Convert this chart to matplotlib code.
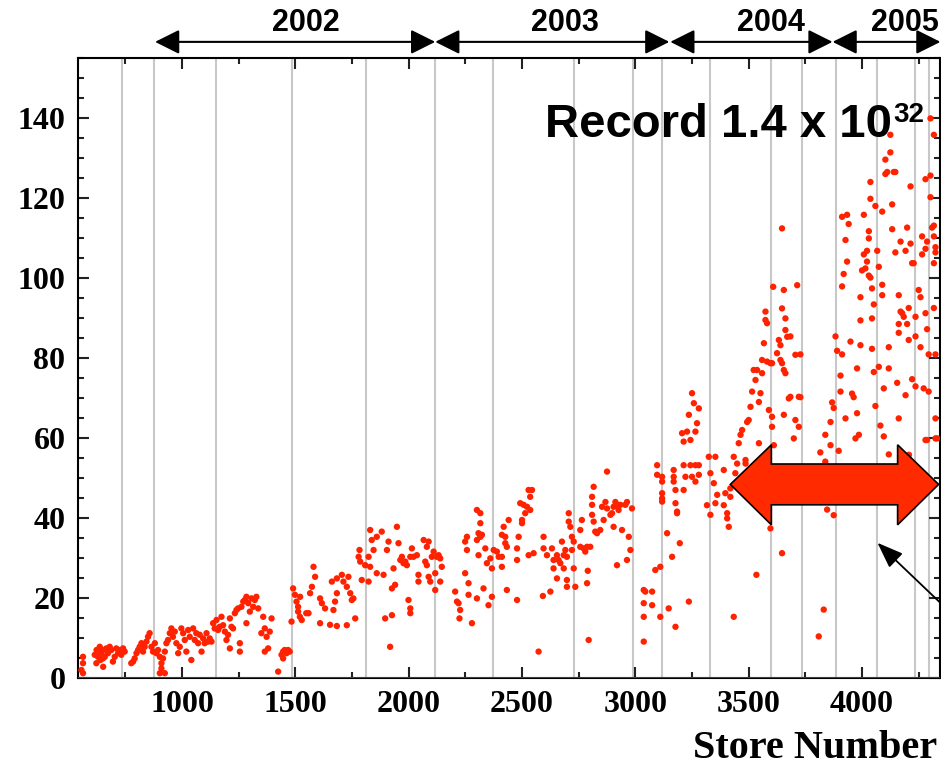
import numpy as np
import matplotlib.pyplot as plt
from matplotlib.patches import Polygon

# Peak luminosity per store (units of 1e30 cm^-2 s^-1)
run_early = [
    (563, 5.3), (563, 3.7), (556, 2.0), (563, 1.2),
    (615, 5.8), (622, 3.7), (623, 7.0), (629, 5.3), (629, 6.6), (637, 7.8), (640, 4.5), (644, 6.2),
    (651, 7.0), (651, 4.9), (652, 2.8), (659, 5.3), (666, 7.4), (673, 6.2), (681, 7.8), (688, 7.0),
    (695, 4.1), (703, 5.3), (710, 7.4), (718, 6.2), (725, 7.0), (732, 5.8), (740, 7.4), (747, 6.6),
    (776, 3.7), (784, 4.1), (791, 4.9), (799, 6.2), (806, 7.0), (813, 7.8), (821, 8.7), (828, 6.6),
    (835, 7.8), (843, 9.1), (850, 10.3), (857, 11.2), (865, 7.8), (872, 6.6), (880, 8.7), (887, 6.2),
    (894, 7.0), (902, 5.3), (909, 3.7), (916, 4.9), (924, 6.6), (902, 1.2), (924, 1.2), (909, 2.4),
    (931, 8.7), (938, 9.5), (946, 11.2), (953, 12.4), (960, 10.3), (968, 11.6), (975, 8.7),
    (983, 6.2), (990, 7.8), (997, 12.4),
]

run_1000 = [
    (1005, 11.2), (1012, 9.5), (1019, 6.6), (1027, 12.0), (1034, 10.3), (1041, 4.5), (1049, 12.4),
    (1056, 9.5), (1063, 11.2), (1071, 8.7), (1078, 10.8), (1086, 6.6), (1093, 9.9), (1100, 8.7),
    (1108, 11.2), (1115, 9.1), (1122, 9.9), (1130, 9.1), (1137, 13.7), (1144, 12.4), (1152, 14.5),
    (1159, 12.0), (1166, 12.8), (1174, 15.3), (1181, 13.2), (1189, 11.6), (1196, 9.5), (1203, 10.8),
    (1211, 14.9), (1218, 12.8), (1225, 12.4), (1211, 7.4), (1255, 8.7), (1255, 6.6), (1233, 16.2),
    (1240, 17.0), (1247, 17.4), (1262, 17.8), (1270, 19.1), (1277, 19.5), (1284, 20.3), (1292, 18.7),
    (1299, 16.6), (1284, 13.7), (1306, 19.9), (1314, 17.8), (1321, 19.5), (1328, 20.3), (1336, 17.4),
    (1350, 11.2), (1358, 15.3), (1365, 12.4), (1373, 10.3), (1365, 6.6), (1387, 11.6), (1395, 14.9),
    (1380, 7.4), (1424, 1.6), (1439, 5.8), (1446, 6.6), (1453, 7.0), (1461, 6.2), (1468, 7.0),
    (1475, 6.6), (1446, 4.9), (1483, 14.1), (1490, 22.4), (1498, 20.8), (1505, 19.1), (1512, 16.6),
    (1520, 15.3), (1512, 17.8),
]

run_1500 = [
    (1521, 20.3), (1528, 14.5), (1548, 16.2), (1558, 16.2), (1565, 21.2), (1573, 22.8), (1580, 27.8),
    (1587, 25.3), (1609, 19.9), (1617, 18.7), (1631, 17.4), (1609, 13.7), (1653, 13.3), (1683, 13.0),
    (1727, 13.2), (1668, 17.0), (1675, 19.1), (1683, 21.2), (1661, 24.1), (1683, 24.9), (1705, 25.8),
    (1712, 24.1), (1727, 22.8), (1742, 21.2), (1749, 19.5), (1734, 25.3), (1764, 14.9), (1756, 19.9),
    (1779, 30.3), (1786, 29.1), (1783, 32.0), (1793, 24.5), (1808, 28.2), (1823, 24.1), (1830, 37.0),
    (1837, 34.5), (1823, 30.3), (1830, 27.8), (1845, 32.0), (1859, 35.3), (1881, 36.6), (1859, 26.2),
    (1889, 25.8), (1896, 14.9), (1904, 32.0), (1911, 34.1), (1918, 7.8), (1926, 15.7), (1933, 27.4),
    (1926, 22.4), (1940, 23.3), (1948, 37.8), (1955, 33.7), (1963, 29.5), (1970, 30.3), (1977, 28.7),
    (1985, 29.1), (1992, 28.2), (1999, 19.5), (2007, 17.4), (2007, 16.2), (2007, 30.3), (2014, 32.4),
    (2021, 30.3), (2036, 30.7), (2043, 25.8), (2043, 24.1), (2066, 34.5), (2073, 29.1), (2080, 32.8),
    (2088, 34.1), (2080, 28.2), (2088, 25.3), (2095, 24.1), (2102, 30.3), (2110, 31.6), (2117, 26.2),
    (2117, 22.0), (2124, 30.3), (2132, 30.7), (2139, 29.9), (2146, 27.8), (2139, 24.1),
    (2205, 21.6), (2213, 19.1), (2220, 18.7), (2227, 17.0), (2224, 14.9), (2249, 34.1), (2257, 35.3),
    (2257, 32.0), (2249, 26.2), (2264, 23.7), (2264, 20.8), (2279, 13.7), (2301, 34.5), (2301, 42.0),
    (2316, 41.2), (2316, 38.7), (2308, 36.2), (2316, 35.3), (2308, 30.7), (2301, 19.9), (2323, 35.8),
    (2338, 32.4), (2330, 22.4), (2345, 28.7), (2352, 18.2), (2360, 29.9), (2367, 27.4), (2367, 20.3),
    (2375, 32.0), (2389, 31.6), (2397, 30.3),
]

run_2400 = [
    (2411, 35.8), (2419, 37.8), (2426, 35.3), (2433, 32.8), (2441, 39.5), (2426, 33.7), (2411, 30.3),
    (2411, 27.8), (2433, 22.0), (2478, 19.5), (2478, 32.4), (2485, 35.3), (2478, 29.5), (2500, 38.7),
    (2500, 39.5), (2492, 43.7), (2507, 43.3), (2514, 41.2), (2522, 42.8), (2536, 45.3), (2544, 47.0),
    (2529, 47.0), (2536, 42.0), (2529, 30.7), (2551, 31.2), (2573, 6.6), (2595, 35.3), (2595, 32.4),
    (2610, 30.7), (2592, 20.5), (2625, 21.6), (2632, 32.4), (2639, 29.5), (2639, 27.4), (2654, 30.7),
    (2661, 29.5), (2669, 28.7), (2676, 34.1), (2684, 30.7), (2691, 32.0), (2698, 30.3), (2698, 24.5),
    (2654, 24.9), (2684, 27.4), (2706, 41.2), (2706, 39.1), (2713, 37.8), (2720, 35.3), (2720, 32.0),
    (2728, 34.1), (2728, 27.4), (2698, 22.8), (2735, 22.8), (2757, 37.0), (2764, 39.5), (2757, 32.8),
    (2772, 32.4), (2779, 31.6), (2787, 32.8), (2787, 23.7), (2790, 26.8), (2794, 9.5), (2801, 32.8),
    (2809, 40.8), (2809, 45.3), (2816, 47.8), (2809, 43.3), (2816, 39.1), (2823, 36.6), (2831, 36.2),
    (2845, 37.0), (2853, 42.8), (2860, 39.5), (2868, 44.0), (2875, 51.6), (2875, 42.4), (2890, 40.8),
    (2897, 41.2), (2904, 42.8), (2904, 37.8), (2912, 44.0), (2919, 43.3), (2919, 28.2), (2926, 42.0),
    (2934, 43.3), (2941, 37.0), (2956, 43.3), (2963, 44.0), (2963, 29.5), (2971, 35.3), (2978, 32.0),
    (2985, 42.4),
]

run_3000 = [
    (3037, 22.0), (3044, 21.6), (3074, 21.6), (3037, 18.7), (3074, 18.2), (3037, 15.3), (3037, 9.1),
    (3088, 27.0), (3110, 27.8), (3110, 15.3), (3096, 53.2), (3096, 50.8), (3118, 50.3), (3118, 49.1),
    (3118, 46.2), (3118, 44.9), (3118, 44.1), (3140, 36.2), (3147, 17.4), (3162, 30.3), (3169, 52.0),
    (3169, 50.3), (3169, 49.1), (3177, 47.0), (3177, 43.7), (3184, 41.6), (3184, 41.2), (3177, 12.8),
    (3196, 33.7), (3206, 61.2), (3213, 59.1), (3213, 53.2), (3221, 50.3), (3213, 47.0), (3228, 61.6),
    (3236, 65.8), (3243, 59.5), (3250, 71.2), (3258, 68.7), (3265, 61.6), (3272, 63.7), (3280, 67.4),
    (3236, 19.1), (3243, 53.2), (3250, 50.3), (3265, 49.1), (3280, 50.8), (3280, 53.2), (3265, 53.2),
    (3324, 55.3), (3353, 55.3), (3331, 51.2), (3346, 48.7), (3316, 43.2), (3331, 40.8), (3361, 45.8),
    (3353, 43.7), (3390, 52.0), (3397, 46.2), (3390, 43.2), (3405, 41.2), (3405, 39.9), (3412, 37.8),
    (3419, 45.3), (3419, 47.4), (3434, 15.3), (3434, 55.3), (3441, 51.2), (3449, 53.6), (3456, 58.7),
    (3464, 60.8), (3471, 62.0), (3486, 54.5), (3486, 53.6), (3493, 64.0), (3500, 64.5), (3508, 67.8),
    (3515, 71.6), (3522, 77.0), (3530, 74.5), (3537, 77.0), (3545, 58.7), (3534, 25.8), (3545, 69.0),
    (3552, 71.2), (3559, 76.2), (3559, 79.5), (3567, 83.7), (3574, 91.6), (3574, 89.5), (3581, 88.7),
    (3581, 79.1), (3589, 67.0), (3596, 78.7), (3603, 78.7), (3603, 65.3), (3603, 62.8), (3608, 97.8),
    (3611, 58.2), (3596, 37.4), (3633, 84.5), (3625, 81.2), (3640, 83.2), (3640, 79.5), (3647, 78.7),
    (3647, 92.4), (3655, 97.0), (3647, 112.4), (3655, 77.0), (3662, 76.2), (3662, 89.9), (3662, 87.0),
    (3670, 85.3), (3677, 69.9), (3684, 70.3), (3655, 65.8), (3647, 31.2), (3699, 59.9), (3706, 64.5),
    (3706, 80.8), (3714, 98.2), (3721, 70.3), (3721, 62.8), (3728, 80.9), (3684, 85.4), (3728, 70.2),
]

run_3800 = [
    (3831, 17.1), (3809, 10.4), (3816, 56.4), (3838, 60.8), (3838, 54.1), (3846, 42.1), (3875, 40.7),
    (3861, 58.2), (3861, 64.0), (3868, 68.9), (3875, 67.5), (3897, 56.8), (3883, 85.4), (3890, 81.8),
    (3912, 80.9), (3905, 75.6), (3905, 71.6), (3927, 64.9), (3912, 97.9), (3919, 101.0), (3934, 104.1),
    (3927, 109.5), (3912, 115.3), (3934, 115.8), (3941, 113.5), (3949, 84.1), (3956, 71.1), (3963, 70.2),
    (3971, 59.9), (3978, 66.2), (3978, 77.4), (3986, 60.8), (3993, 83.2), (3993, 89.4), (3993, 95.2),
    (4000, 101.9), (4008, 105.9), (4008, 115.8), (4015, 102.4), (4022, 104.1), (4022, 106.8),
    (4030, 109.9), (4030, 111.7), (4037, 119.8), (4037, 124.0), (4030, 100.6), (4037, 100.1),
    (4044, 97.4), (4044, 89.9), (4052, 93.4), (4044, 82.3), (4052, 76.5), (4059, 68.0), (4059, 118.0),
    (4067, 106.8), (4074, 102.8), (4074, 77.8), (4081, 63.1), (4089, 116.6), (4089, 98.3), (4089, 95.7),
    (4096, 72.4), (4096, 60.4), (4103, 126.0), (4103, 129.6), (4111, 126.5), (4118, 55.9), (4118, 77.4),
    (4118, 82.7), (4125, 131.4), (4125, 135.8), (4133, 118.4), (4133, 112.2), (4140, 126.5),
    (4147, 126.5), (4147, 106.4), (4155, 73.8), (4162, 95.7), (4162, 88.5), (4162, 64.9), (4162, 86.3),
    (4170, 91.6), (4170, 109.1), (4177, 91.2), (4184, 90.3), (4192, 106.8), (4199, 112.6), (4192, 70.7),
    (4199, 88.5), (4206, 92.5), (4206, 84.5), (4207, 55.8), (4214, 122.9), (4214, 108.6), (4221, 103.7),
    (4228, 103.7), (4236, 90.3), (4236, 85.4), (4221, 74.7), (4236, 72.9), (4250, 97.0), (4258, 95.2),
    (4258, 82.7), (4265, 110.4), (4272, 72.4), (4265, 105.9), (4280, 124.7), (4280, 107.3),
    (4287, 109.1), (4280, 59.5), (4287, 59.5), (4280, 91.2), (4287, 87.2), (4294, 80.9), (4294, 71.6),
    (4302, 125.6), (4302, 120.2), (4302, 139.9), (4309, 112.6), (4317, 135.8), (4317, 113.1),
    (4317, 110.4), (4317, 103.7), (4324, 107.7), (4324, 106.4), (4317, 92.5), (4324, 80.9), (4324, 64.9),
    (4324, 59.9), (4331, 59.9),
]

# stores where running periods change (shutdowns / studies)
period_edges = [735, 876, 1150, 1486, 1810, 2117, 2373, 2731, 2991, 3116, 3331, 3598,
                3734, 3883, 4066, 4234, 4296]

years = ["2002", "2003", "2004", "2005"]
year_start = [881, 2117, 3154, 3870]
year_end = [2117, 3150, 3870, 4346]
year_label_x = [1547, 2691, 3596, 4188]

points = np.array(run_early + run_1000 + run_1500 + run_2400 + run_3000 + run_3800)
store, lumi = points[:, 0], points[:, 1]

fig = plt.figure(figsize=(9.41, 7.67), dpi=100)
ax = fig.add_axes([78 / 941, 89 / 767, 862 / 941, 620 / 767])
ax.set_xlim(541, 4344)
ax.set_ylim(0, 155)

for s in period_edges:
    ax.axvline(s, color="#c8c8c8", lw=1.5, zorder=1)

ax.scatter(store, lumi, s=21, color="#ff2200", edgecolors="none", zorder=3)
ax.axhline(0, color="#d01800", lw=1.2, zorder=4)

tick_font = dict(fontfamily="Liberation Serif", fontweight="bold", fontsize=23)
xt = np.arange(1000, 4001, 500)
ax.set_xticks(xt, [str(v) for v in xt], **tick_font)
ax.set_xticks(np.arange(750, 4344, 250), minor=True)
yt = np.arange(0, 141, 20)
ax.set_yticks(yt, [str(v) for v in yt], **tick_font)
ax.set_yticks(np.arange(5, 156, 5), minor=True)

ax.tick_params(which="both", direction="in", top=True, right=True, width=1.5, color="#222222")
ax.tick_params(which="major", length=8)
ax.tick_params(which="minor", length=4)
ax.tick_params(axis="x", pad=9)
ax.tick_params(axis="y", pad=9)
for sp in ax.spines.values():
    sp.set_linewidth(1.5)

# year ranges above the frame
for name, x0, x1, xl in zip(years, year_start, year_end, year_label_x):
    ax.annotate("", xy=(x1, 1.026), xytext=(x0, 1.026), xycoords=("data", "axes fraction"),
                arrowprops=dict(arrowstyle="<|-|>,head_length=1,head_width=0.5", mutation_scale=15,
                                color="black", lw=1.5, shrinkA=0, shrinkB=0),
                annotation_clip=False)
    ax.text(xl, 1.056, name, transform=ax.get_xaxis_transform(), ha="center", va="center",
            fontsize=22, fontweight="bold", family="Liberation Sans")

rec = ax.text(2603, 135.3, "Record 1.4 x 10", ha="left", va="baseline", fontsize=34,
              fontweight="bold", family="Liberation Sans", zorder=5)
ax.annotate("32", xy=(1, 0), xycoords=rec, xytext=(1, 18), textcoords="offset points",
            ha="left", va="baseline", fontsize=20, fontweight="bold", family="Liberation Sans")

# double arrow marking the recent stores
arrow_pts = [(3419, 48.4), (3600, 58.3), (3600, 53.5), (4157, 53.5), (4157, 58.3), (4338, 48.4),
             (4157, 38.3), (4157, 43.3), (3600, 43.3), (3600, 38.3)]
ax.add_patch(Polygon(arrow_pts, closed=True, facecolor="#ff2a00", edgecolor="black", lw=1.2,
                     zorder=6, clip_on=False))

ax.annotate("", xy=(4068, 33.8), xytext=(4351, 18.5),
            arrowprops=dict(arrowstyle="-|>,head_length=1.6,head_width=0.6", mutation_scale=10,
                            color="black", lw=1.3, shrinkA=0, shrinkB=0),
            annotation_clip=False, zorder=6)

fig.text(937 / 941, 9 / 767, "Store Number", ha="right", va="baseline", fontsize=29,
         fontweight="bold", family="Liberation Serif")

fig.savefig("out.png", dpi=100)
